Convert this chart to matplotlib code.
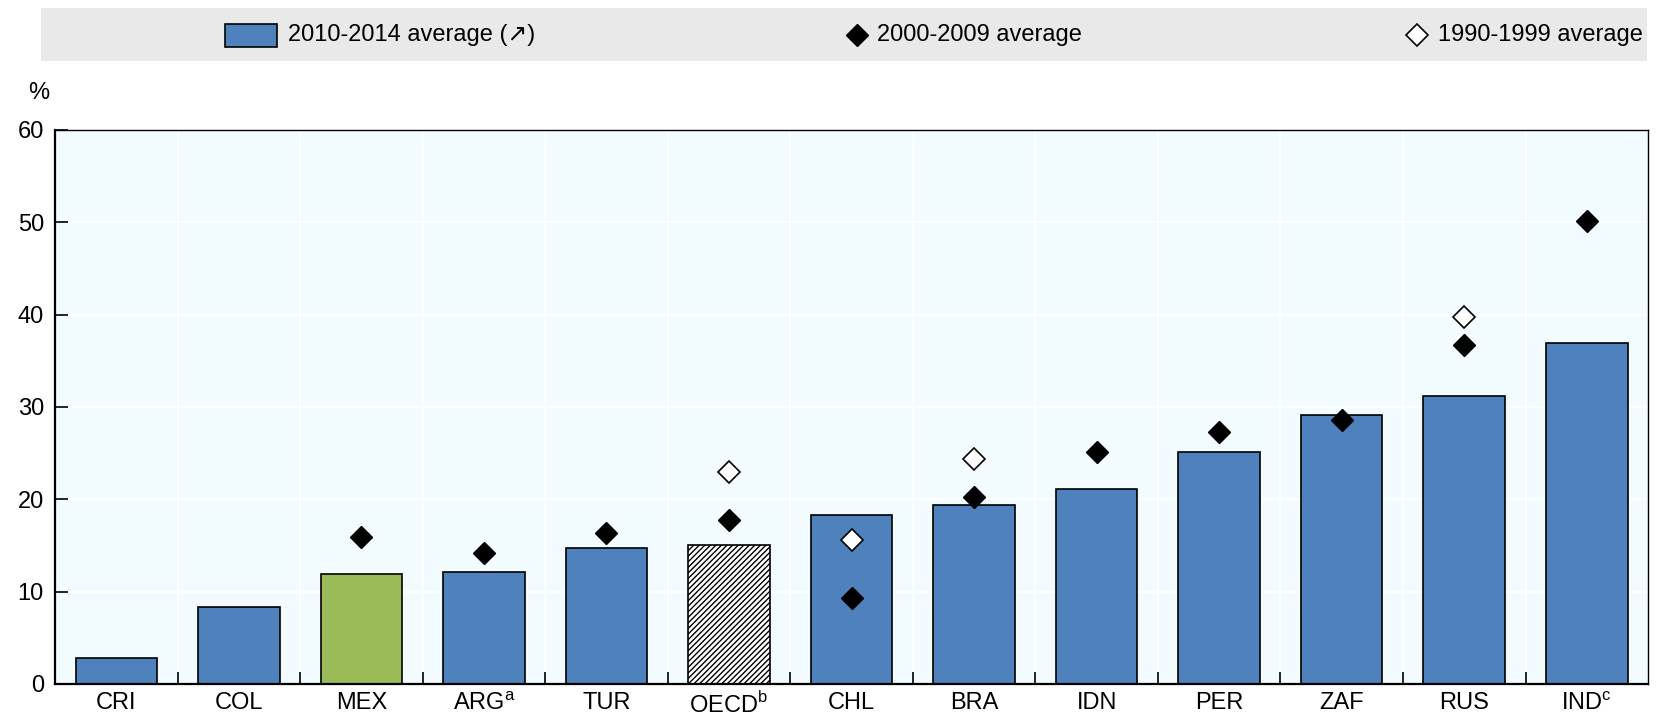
import matplotlib
matplotlib.use("Agg")
import matplotlib.pyplot as plt
from matplotlib.patches import Rectangle
from matplotlib.lines import Line2D
import numpy as np

plt.rcParams['font.family'] = ['Liberation Sans Narrow', 'Liberation Sans', 'DejaVu Sans']
plt.rcParams['hatch.linewidth'] = 1.0

COUNTRIES = ["CRI", "COL", "MEX", "ARG$^{\\mathregular{a}}$", "TUR", "OECD$^{\\mathregular{b}}$",
             "CHL", "BRA", "IDN", "PER", "ZAF", "RUS", "IND$^{\\mathregular{c}}$"]
AVG_2010_2014 = [2.8, 8.3, 11.9, 12.1, 14.7, 15.0, 18.3, 19.4, 21.1, 25.1, 29.1, 31.2, 36.9]
AVG_2000_2009 = [np.nan, np.nan, 15.9, 14.2, 16.4, 17.8, 9.3, 20.3, 25.1, 27.3, 28.6, 36.7, 50.1]
AVG_1990_1999 = [np.nan, np.nan, np.nan, np.nan, np.nan, 23.0, 15.6, 24.4, np.nan, np.nan, np.nan, 39.7, np.nan]

BLUE = "#4F81BD"
GREEN = "#9BBB59"
BG = "#F2FCFF"

fig = plt.figure(figsize=(16.57, 7.19), dpi=100)
ax = fig.add_axes([0.0332, 0.0487, 0.9614, 0.7705])
ax.set_facecolor(BG)

x = np.arange(len(COUNTRIES))
colors = [BLUE] * len(COUNTRIES)
colors[2] = GREEN
bars = ax.bar(x, AVG_2010_2014, width=0.665, color=colors, edgecolor="black", linewidth=1.2, zorder=2)
bars[5].set_facecolor("white")
bars[5].set_hatch("//////")

ax.plot(x, AVG_2000_2009, linestyle="none", marker="D", markersize=11, color="black", zorder=3)
ax.plot(x, AVG_1990_1999, linestyle="none", marker="D", markersize=11, markerfacecolor="white",
        markeredgecolor="black", markeredgewidth=1.2, zorder=3)

ax.set_xlim(-0.5, len(COUNTRIES) - 0.5)
ax.set_ylim(0, 60)
ax.set_yticks(range(0, 61, 10))
ax.set_xticks(x)
ax.set_xticklabels(COUNTRIES)
ax.set_xticks(x[:-1] + 0.5, minor=True)
ax.tick_params(axis="x", which="major", length=0, pad=6, labelsize=17)
ax.tick_params(axis="x", which="minor", direction="in", length=9, width=1.2)
ax.tick_params(axis="y", direction="in", length=9, width=1.2, labelsize=17, pad=8)
ax.grid(axis="y", color="white", linewidth=1.2, zorder=0)
ax.grid(axis="x", which="minor", color="white", linewidth=1.2, zorder=0)
ax.set_axisbelow(True)
for side in ["left", "bottom"]:
    ax.spines[side].set_linewidth(1.6)
for side in ["top", "right"]:
    ax.spines[side].set_linewidth(1.0)

fig.text(0.017, 0.87, "%", fontsize=17, ha="left", va="center")

# legend strip
fig.patches.append(Rectangle((0.0247, 0.915), 0.969, 0.074, transform=fig.transFigure,
                             facecolor="#E9E9E9", edgecolor="none"))
ly = 0.951
fig.patches.append(Rectangle((0.136, ly - 0.016), 0.031, 0.032, transform=fig.transFigure,
                             facecolor=BLUE, edgecolor="black", linewidth=1.2))
fig.text(0.174, ly, "2010-2014 average (\u2197)", fontsize=17, va="center")
fig.lines.append(Line2D([0.517], [ly], transform=fig.transFigure, marker="D", markersize=11,
                        color="black", linestyle="none"))
fig.text(0.529, ly, "2000-2009 average", fontsize=17, va="center")
fig.lines.append(Line2D([0.855], [ly], transform=fig.transFigure, marker="D", markersize=11,
                        markerfacecolor="white", markeredgecolor="black", markeredgewidth=1.2,
                        linestyle="none"))
fig.text(0.868, ly, "1990-1999 average", fontsize=17, va="center")

fig.savefig("out.png", dpi=100)
